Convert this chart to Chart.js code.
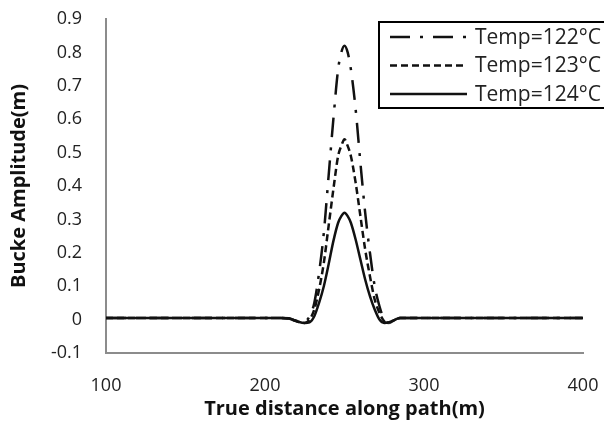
<!DOCTYPE html>
<html>
<head>
<meta charset="utf-8">
<script src="https://cdn.jsdelivr.net/npm/chart.js@4.4.1/dist/chart.umd.min.js"></script>
<style>
  html, body { margin: 0; padding: 0; background: #fff; }
  #wrap { width: 604px; height: 421px; }
</style>
</head>
<body>
<div id="wrap"><canvas id="chart" width="604" height="421"></canvas></div>
<script>
// ===== data =====
const distance = [100, 150, 200, 210, 215, 220, 225, 228, 231, 234, 237, 240, 243, 246, 248, 250,
                  252, 254, 257, 260, 263, 266, 269, 272, 275, 278, 282, 285, 290, 300, 350, 400];

const temp122 = [0.005, 0.005, 0.005, 0.005, 0.004, -0.004, -0.005, 0.01, 0.05, 0.14, 0.26, 0.43, 0.6, 0.75, 0.8, 0.82,
                 0.8, 0.75, 0.63, 0.47, 0.32, 0.2, 0.1, 0.04, 0.0, -0.01, 0.0, 0.005, 0.005, 0.005, 0.005, 0.005];
const temp123 = [0.005, 0.005, 0.005, 0.005, 0.003, -0.005, -0.01, 0.0, 0.03, 0.09, 0.17, 0.28, 0.39, 0.49, 0.52, 0.54,
                 0.52, 0.49, 0.41, 0.31, 0.21, 0.13, 0.06, 0.02, -0.005, -0.01, 0.0, 0.005, 0.005, 0.005, 0.005, 0.005];
const temp124 = [0.005, 0.005, 0.005, 0.005, 0.003, -0.005, -0.01, -0.008, 0.01, 0.05, 0.1, 0.165, 0.235, 0.29, 0.31, 0.32,
                 0.31, 0.29, 0.24, 0.18, 0.12, 0.07, 0.03, 0.0, -0.01, -0.008, 0.0, 0.005, 0.005, 0.005, 0.005, 0.005];

const seriesLabels = ["Temp=122°C", "Temp=123°C", "Temp=124°C"];
const yTickLabels = ["-0.1", "0", "0.1", "0.2", "0.3", "0.4", "0.5", "0.6", "0.7", "0.8", "0.9"];
const xTickLabels = ["100", "200", "300", "400"];

const FONT = "'Open Sans', 'Noto Sans', sans-serif";
const dashes = [[20, 10, 3, 10], [7, 4], []];

function points(ys) {
  return distance.map((x, i) => ({ x: x, y: ys[i] }));
}

// legend drawn as a framed box in the top-right corner, like the original
const boxLegend = {
  id: "boxLegend",
  afterDraw(chart) {
    const ctx = chart.ctx;
    ctx.save();
    ctx.strokeStyle = "#000";
    ctx.lineWidth = 2;
    ctx.strokeRect(379, 22, 240, 86);
    ctx.font = "21px " + FONT;
    ctx.textBaseline = "middle";
    ctx.fillStyle = "#222";
    chart.data.datasets.forEach((ds, i) => {
      const y = 37 + i * 28.5;
      ctx.beginPath();
      ctx.setLineDash(ds.borderDash);
      ctx.lineWidth = ds.borderWidth;
      ctx.strokeStyle = ds.borderColor;
      ctx.moveTo(390, y);
      ctx.lineTo(467, y);
      ctx.stroke();
      ctx.setLineDash([]);
      ctx.fillText(ds.label, 475, y + 1);
    });
    ctx.restore();
  }
};

new Chart(document.getElementById("chart"), {
  type: "line",
  data: {
    datasets: [temp122, temp123, temp124].map((ys, i) => ({
      label: seriesLabels[i],
      data: points(ys),
      borderColor: "#111",
      borderWidth: 2.5,
      borderDash: dashes[i],
      pointRadius: 0,
      fill: false,
      tension: 0.4,
      cubicInterpolationMode: "monotone"
    }))
  },
  options: {
    responsive: false,
    animation: false,
    layout: { padding: { top: 19, right: 21, left: 0, bottom: 0 } },
    plugins: { legend: { display: false }, tooltip: { enabled: false } },
    scales: {
      x: {
        type: "linear",
        min: 100, max: 400,
        grid: { display: false, tickLength: 21 },
        border: { display: true, color: "#8c8c8c", width: 2 },
        ticks: {
          stepSize: 100, padding: 1, color: "#222", font: { family: FONT, size: 18 },
          callback: (v, i) => xTickLabels[i]
        },
        title: {
          display: true, text: "True distance along path(m)", color: "#111",
          font: { family: FONT, size: 20, weight: "bold" }, padding: { top: 5, bottom: 0 }
        },
        afterFit: (s) => { s.height = 68; }
      },
      y: {
        min: -0.1, max: 0.9,
        grid: { display: false, tickLength: 20 },
        border: { display: true, color: "#8c8c8c", width: 2 },
        ticks: {
          stepSize: 0.1, padding: 4, color: "#222", font: { family: FONT, size: 18 },
          callback: (v, i) => yTickLabels[i]
        },
        title: {
          display: true, text: "Bucke Amplitude(m)", color: "#111",
          font: { family: FONT, size: 20, weight: "bold" }, padding: { top: 7, bottom: 0 }
        },
        afterFit: (s) => { s.width = 106; }
      }
    }
  },
  plugins: [boxLegend]
});
</script>
</body>
</html>
